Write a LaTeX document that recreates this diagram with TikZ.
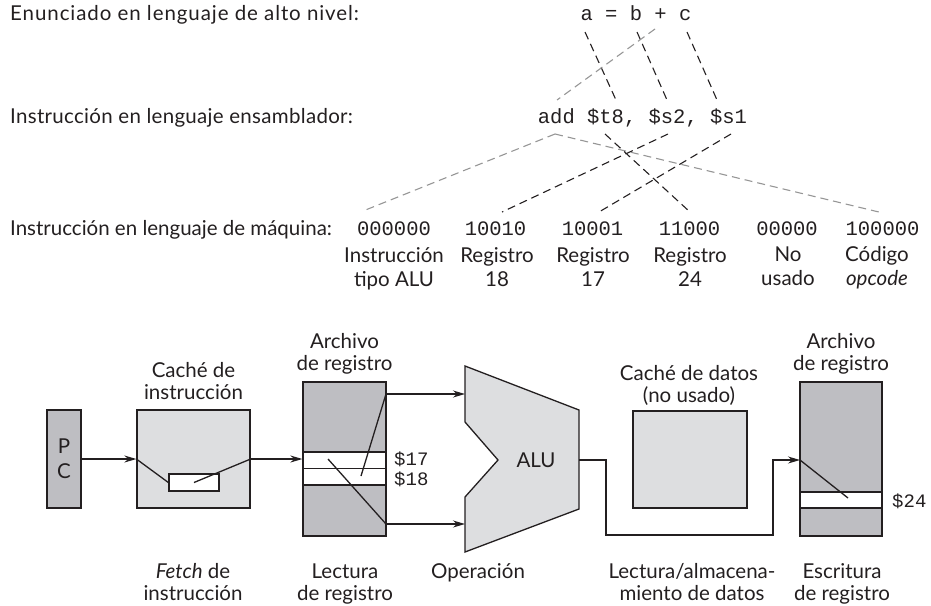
\documentclass[tikz,border=0pt]{standalone}
\usepackage{fontspec}
\setmainfont{Lato}
\setmonofont{Liberation Mono}
\newfontfamily\widelato[LetterSpace=4.5]{Lato}
\newfontfamily\semiwidelato[LetterSpace=1.5]{Lato}
\usetikzlibrary{arrows.meta}
\definecolor{darkfill}{RGB}{190,190,194}
\definecolor{lightfill}{RGB}{221,222,224}
\definecolor{ink}{RGB}{35,31,32}
\definecolor{linkgray}{RGB}{150,150,150}
\begin{document}
\begin{tikzpicture}[x=1pt,y=-1pt,
  lbl/.style={font=\fontsize{20.5}{22}\selectfont, inner sep=0pt, text=ink, align=center},
  code/.style={font=\fontsize{20.5}{24}\selectfont\ttfamily, inner sep=0pt, text=ink},
  blink/.style={draw=ink, line width=1.1pt, dash pattern=on 8pt off 5pt},
  glink/.style={draw=linkgray, line width=1.1pt, dash pattern=on 8pt off 5pt},
  box/.style={draw=ink, line width=1.3pt, inner sep=0pt},
  wire/.style={draw=ink, line width=1.3pt},
  arr/.style={wire, -{Stealth[length=12pt,width=7pt]}}
]
\useasboundingbox (0,0) rectangle (931,605);

% ---------- top: texts ----------
\node[lbl, anchor=base west, font=\fontsize{20.5}{22}\widelato] (hl) at (10,20) {Enunciado en lenguaje de alto nivel:};
\node[lbl, anchor=base west, font=\fontsize{20.5}{22}\semiwidelato] (al) at (10,123) {Instrucción en lenguaje ensamblador:};
\node[lbl, anchor=base west] (ml) at (10,235) {Instrucción en lenguaje de máquina:};

\node[code, anchor=base] (hll) at (636,20) {a = b + c};
\node[code, anchor=base] (asm) at (642.5,123) {add \$t8, \$s2, \$s1};

\node[code, anchor=base] (m1) at (394,235) {000000};
\node[code, anchor=base] (m2) at (495.5,235) {10010};
\node[code, anchor=base] (m3) at (592.5,235) {10001};
\node[code, anchor=base] (m4) at (689.5,235) {11000};
\node[code, anchor=base] (m5) at (787,235) {00000};
\node[code, anchor=base] (m6) at (882.5,235) {100000};

% (base anchor of a two-line node = baseline of its last line)
\node[lbl, anchor=base, font=\fontsize{20.5}{24}\selectfont] (d1) at (394,286) {Instrucción\\tipo ALU};
\node[lbl, anchor=base, font=\fontsize{20.5}{24}\selectfont] (d2) at (497,286) {Registro\\18};
\node[lbl, anchor=base, font=\fontsize{20.5}{24}\selectfont] (d3) at (593,286) {Registro\\17};
\node[lbl, anchor=base, font=\fontsize{20.5}{24}\selectfont] (d4) at (690,286) {Registro\\24};
\node[lbl, anchor=base, font=\fontsize{20.5}{24}\selectfont] (d5) at (788,285) {No\\usado};
\node[lbl, anchor=base, font=\fontsize{20.5}{24}\selectfont] (d6) at (877,285) {Código\\\textit{opcode}};

% ---------- top: connectors ----------
\coordinate (ca) at (585,32);  \coordinate (ct8in) at (616,100);
\coordinate (cb) at (637,32);  \coordinate (cs2in) at (667,100);
\coordinate (cc) at (687,32);  \coordinate (cs1in) at (717,100);
\coordinate (cplus) at (655,29); \coordinate (caddin) at (557,100);
\draw[blink] (ca) -- (ct8in);
\draw[blink] (cb) -- (cs2in);
\draw[blink] (cc) -- (cs1in);
\draw[glink] (cplus) -- (caddin);

\coordinate (caddout) at (555,134);
\coordinate (ct8out) at (605,134);
\coordinate (cs2out) at (668,134);
\coordinate (cs1out) at (731,134);
\coordinate (cm1) at (363,211);
\coordinate (cm2) at (502,212);
\coordinate (cm3) at (599,212);
\coordinate (cm4) at (690,212);
\coordinate (cm6) at (883,213);
\draw[glink] (caddout) -- (cm1);
\draw[glink] (caddout) -- (cm6);
\draw[blink] (cs2out) -- (cm2);
\draw[blink] (cs1out) -- (cm3);
\draw[blink] (ct8out) -- (cm4);

% ---------- bottom: datapath ----------
\node[box, fill=darkfill, minimum width=34pt, minimum height=98pt, lbl, font=\fontsize{20.5}{25}\selectfont] (pc) at (64,459) {P\\C};

\node[box, fill=lightfill, minimum width=113pt, minimum height=98pt] (icache) at (193.5,459) {};
\node[box, fill=white, minimum width=50pt, minimum height=17pt] (ireg) at (194,482.5) {};
\node[lbl, anchor=base] (icl) at (193.5,399) {Caché de\\instrucción};

\node[box, fill=darkfill, minimum width=83pt, minimum height=154pt] (rf1) at (344.5,459) {};
\node[box, fill=white, minimum width=83pt, minimum height=16.5pt] (r17) at (344.5,460.25) {};
\node[box, fill=white, minimum width=83pt, minimum height=16.5pt] (r18) at (344.5,476.75) {};
\node[lbl, anchor=base] (rf1l) at (344.5,370) {Archivo\\de registro};
\node[code, anchor=west, font=\fontsize{19}{22}\selectfont\ttfamily] (l17) at (394,459) {\$17};
\node[code, anchor=west, font=\fontsize{19}{22}\selectfont\ttfamily] (l18) at (394,479) {\$18};

% ALU
\coordinate (aluA) at (465,366);
\coordinate (aluB) at (579,410);
\coordinate (aluC) at (579,509);
\coordinate (aluD) at (465,552);
\coordinate (aluE) at (465,497);
\coordinate (aluF) at (498,460);
\coordinate (aluG) at (465,422);
\draw[wire, fill=lightfill, line join=miter] (aluA) -- (aluB) -- (aluC) -- (aluD) -- (aluE) -- (aluF) -- (aluG) -- cycle;
\node[lbl] (alu) at (536,460) {ALU};

\node[box, fill=lightfill, minimum width=114pt, minimum height=97pt] (dcache) at (690,459.5) {};
\node[lbl, anchor=base] (dcl) at (689,402) {Caché de datos\\(no usado)};

\node[box, fill=darkfill, minimum width=82pt, minimum height=154pt] (rf2) at (841,459) {};
\node[box, fill=white, minimum width=82pt, minimum height=16pt] (r24) at (841,500) {};
\node[lbl, anchor=base] (rf2l) at (841,370) {Archivo\\de registro};
\node[code, anchor=west, font=\fontsize{19}{22}\selectfont\ttfamily] (l24) at (892,501) {\$24};

% connectors
\draw[arr] (pc.east) -- (icache.west);
\draw[wire] (icache.west) -- (ireg.west);
\draw[wire] (ireg.center) -- (icache.east);
\draw[arr] (icache.east) -- (rf1.west);

\coordinate (rfo1) at (386,394);
\coordinate (rfo2) at (386,524);
\coordinate (rfi1) at (361,476);
\coordinate (rfi2) at (328,459);
\draw[wire] (rfi1) -- (rfo1);
\draw[wire] (rfi2) -- (rfo2);
\coordinate (aluin1) at (465,394);
\coordinate (aluin2) at (465,524);
\draw[arr] (rfo1) -- (aluin1);
\draw[arr] (rfo2) -- (aluin2);

\coordinate (aluout) at (579,460);
\coordinate (rfw) at (800,460);
\coordinate (rfwin) at (848,498);
\draw[arr] (aluout) -- (606,460) -- (606,535) -- (773,535) -- (773,460) -- (rfw);
\draw[wire] (rfw) -- (rfwin);

% bottom labels
\node[lbl, anchor=base] (s1) at (193,600) {\textit{Fetch} de\\instrucción};
\node[lbl, anchor=base] (s2) at (345,600) {Lectura\\de registro};
\node[lbl, anchor=base] (s3) at (478,578) {Operación};
\node[lbl, anchor=base] (s4) at (692,600) {Lectura/almacena-\\miento de datos};
\node[lbl, anchor=base] (s5) at (842,600) {Escritura\\de registro};
\end{tikzpicture}
\end{document}
